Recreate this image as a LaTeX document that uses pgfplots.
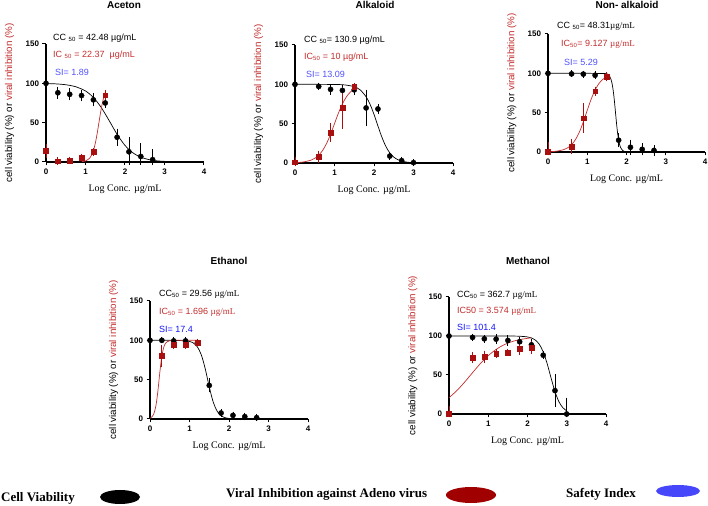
\documentclass[border=0pt]{standalone}
\usepackage{pgfplots}
\pgfplotsset{compat=1.18}
\usepackage{fontspec}
\setmainfont{Liberation Sans}
\newfontfamily\tnr{Liberation Serif}
\definecolor{dred}{RGB}{170,15,15}
\definecolor{cred}{RGB}{195,45,45}
\definecolor{lblue}{RGB}{80,80,255}
\definecolor{dblue}{RGB}{20,20,250}
\definecolor{legred}{RGB}{160,0,0}
\definecolor{legblue}{RGB}{70,70,250}
\pgfplotsset{
  panel/.style={
    scale only axis, width=158pt, height=118pt, anchor=south west,
    axis lines=left, axis line style={-, line width=1.1pt, black},
    xmin=0, xmax=4, ymin=0, ymax=150,
    xtick={0,1,2,3,4}, ytick={0,50,100,150},
    tick align=outside, major tick length=3.5pt,
    every tick/.style={black, line width=1pt},
    tick label style={font=\fontsize{8}{9}\selectfont\bfseries},
    /pgf/number format/assume math mode=true,
    clip=false,
    xlabel={{\tnr Log Conc. µg/mL}},
    xlabel style={at={(axis description cs:0.5,-0.23)}, anchor=center, font=\fontsize{10}{12}\selectfont},
    ylabel={cell viability (\%) or \textcolor{cred}{viral inhibition (\%)}},
    ylabel style={at={(axis description cs:-0.23,0.5)}, anchor=center, font=\fontsize{9.8}{11}\selectfont},
  },
  bcurve/.style={black, line width=0.7pt, no marks, smooth},
  rcurve/.style={cred, line width=0.7pt, no marks, smooth},
  cv/.style={black, only marks, mark=*, mark size=2.6pt,
    error bars/.cd, y dir=both, y explicit,
    error bar style={black, line width=0.8pt},
    error mark options={black, line width=0.8pt, mark size=3pt}},
  vi/.style={dred, only marks, mark=square*, mark size=2.4pt,
    error bars/.cd, y dir=both, y explicit,
    error bar style={dred, line width=0.8pt},
    error mark options={dred, line width=0.8pt, mark size=3pt}},
}
\begin{document}
\begin{tikzpicture}
\path[use as bounding box] (0,0) rectangle (708pt,505pt);

% ---------------- Aceton
\begin{axis}[panel, at={(46pt,343pt)}]
\addplot[bcurve] coordinates {(0,99.7)(0.25,99.3)(0.5,98.2)(0.75,95.7)(1.0,90.3)(1.2,82)(1.4,69.2)(1.6,52.5)(1.8,35.2)(2.0,21.1)(2.2,11.6)(2.4,6.1)(2.6,3.1)(2.8,1.5)(3.0,0.8)};
\addplot[rcurve] coordinates {(0.9,0.4)(1.0,1.3)(1.1,4.6)(1.15,8.3)(1.2,14.5)(1.25,24.2)(1.3,37.6)(1.35,53.2)(1.4,68.1)(1.45,80.1)(1.5,88.3)};
\addplot[cv] coordinates {(0,100) +- (0,0) (0.3,88) +- (0,4) (0.6,86) +- (0,4) (0.9,84.5) +- (0,3.5) (1.2,79) +- (0,4.5) (1.5,75) +- (0,2) (1.8,31.5) +- (0,7) (2.1,13) += (0,15) -= (0,13) (2.4,7) += (0,13) -= (0,7) (2.7,3) += (0,10) -= (0,3)};
\addplot[vi] coordinates {(0,14) +- (0,5) (0.3,1) +- (0,1) (0.6,2) +- (0,1) (0.9,5.5) +- (0,1) (1.2,12.7) +- (0,1.5) (1.5,85) +- (0,3)};
\end{axis}

% ---------------- Alkaloid
\begin{axis}[panel, at={(295pt,342pt)}]
\addplot[bcurve] coordinates {(0,100)(0.5,100)(1.0,99.8)(1.25,99.3)(1.5,97)(1.65,92.9)(1.8,84.2)(1.9,74.6)(2.0,61.8)(2.1,47.0)(2.2,32.8)(2.3,21.1)(2.4,12.8)(2.5,7.5)(2.6,4.3)(2.7,2.4)(2.85,1.0)(3.0,0.4)};
\addplot[rcurve] coordinates {(0,0.4)(0.2,1.2)(0.4,3.5)(0.5,5.9)(0.6,9.9)(0.7,16)(0.8,24.9)(0.9,36.5)(1.0,50)(1.1,63.5)(1.2,75.1)(1.3,84)(1.4,90.1)(1.5,94.1)};
\addplot[cv] coordinates {(0,100) +- (0,0) (0.6,97.3) +- (0,1) (0.9,93.6) +- (0,3) (1.2,92.3) +- (0,3) (1.5,93) +- (0,3) (1.8,70) +- (0,19) (2.1,68.7) +- (0,2) (2.4,8.8) +- (0,1) (2.7,3) +- (0,1) (3.0,0.5) +- (0,0.5)};
\addplot[vi] coordinates {(0,1) += (0,3) -= (0,1) (0.6,8) +- (0,4) (0.9,38.8) +- (0,8) (1.2,70.4) +- (0,23) (1.5,96.5) +- (0,2)};
\end{axis}

% ---------------- Non- alkaloid
\begin{axis}[panel, width=157pt, at={(548pt,353pt)}]
\addplot[bcurve] coordinates {(0,100)(1.0,100)(1.45,99.7)(1.5,99.2)(1.525,98.6)(1.55,97.6)(1.575,95.8)(1.6,93.1)(1.625,88.7)(1.65,82)(1.675,72.6)(1.7,60.6)(1.725,47.3)(1.75,34.3)(1.775,23.3)(1.8,15)(1.825,9.3)(1.85,5.7)(1.9,2.0)(1.95,0.7)(2.0,0.2)};
\addplot[rcurve] coordinates {(0,0.3)(0.2,0.9)(0.4,3.0)(0.5,5.3)(0.6,9.3)(0.7,15.8)(0.8,25.4)(0.9,38.3)(1.0,53)(1.1,67.2)(1.2,78.9)(1.3,87.2)(1.4,92.5)(1.5,95.7)};
\addplot[cv] coordinates {(0,100) +- (0,0) (0.6,99.3) +- (0,0.5) (0.9,99) +- (0,0.5) (1.2,97.6) +- (0,1) (1.5,95) +- (0,1.5) (1.8,15) +- (0,5) (2.1,6) +- (0,6) (2.4,3.4) +- (0,4) (2.7,2) +- (0,3)};
\addplot[vi] coordinates {(0,0.5) += (0,8) -= (0,0.5) (0.6,7.2) +- (0,6) (0.9,43) +- (0,15) (1.2,77.3) +- (0,2) (1.5,96) +- (0,1.5)};
\end{axis}

% ---------------- Ethanol
\begin{axis}[panel, at={(150pt,86pt)}]
\addplot[bcurve] coordinates {(0,100)(0.5,100)(0.9,99.4)(1.0,98.6)(1.1,96.5)(1.2,91.6)(1.3,81.4)(1.4,63.5)(1.5,40.9)(1.6,21.6)(1.7,9.9)(1.8,4.2)(1.9,1.7)(2.0,0.7)};
\addplot[rcurve] coordinates {(0,1.0)(0.05,2.8)(0.1,7.1)(0.15,17)(0.2,35.6)(0.25,59.8)(0.3,80)(0.35,91.5)(0.4,96.7)(0.5,99.5)(0.7,100)(1.2,100)};
\addplot[cv] coordinates {(0,100) +- (0,0) (0.3,100) +- (0,0) (0.6,99.3) +- (0,0.5) (0.9,99.3) +- (0,0.5) (1.2,97) +- (0,1) (1.5,42.7) +- (0,5) (1.8,7.6) +- (0,1) (2.1,4.6) +- (0,1) (2.4,3) +- (0,1) (2.7,1.7) +- (0,0.5)};
\addplot[vi] coordinates {(0.3,80) +- (0,10) (0.6,94.5) +- (0,2) (0.9,94.5) +- (0,2) (1.2,97) +- (0,1)};
\end{axis}

% ---------------- Methanol
\begin{axis}[panel, width=157pt, height=117pt, at={(449pt,91pt)}]
\addplot[bcurve] coordinates {(0,100)(1.0,100)(1.5,100)(1.8,99.7)(2.0,98.8)(2.1,97.5)(2.2,94.7)(2.3,89.4)(2.4,79.7)(2.5,64.7)(2.6,46.2)(2.7,28.7)(2.8,15.8)(2.9,8.1)(3.0,4.0)};
\addplot[rcurve] coordinates {(0,20.9)(0.2,30)(0.4,41)(0.6,53)(0.8,64.7)(1.0,74.8)(1.2,82.8)(1.4,88.7)(1.6,92.7)(1.8,95.4)(2.1,97.7)};
\addplot[cv] coordinates {(0,100) +- (0,0) (0.6,98.2) +- (0,1) (0.9,96.4) +- (0,1) (1.2,96) +- (0,3) (1.5,94.3) +- (0,3) (1.8,92.6) +- (0,2) (2.1,88.7) +- (0,4) (2.4,75.4) +- (0,1) (2.7,30) +- (0,17) (3.0,0) += (0,17) -= (0,0)};
\addplot[vi] coordinates {(0,0) += (0,7) -= (0,0) (0.6,72) +- (0,3) (0.9,73.3) +- (0,4) (1.2,77.1) +- (0,2) (1.5,78.9) +- (0,1) (1.8,84) +- (0,4) (2.1,85.3) +- (0,4)};
\end{axis}

% titles
\begin{scope}[every node/.style={font=\bfseries\fontsize{10}{12}\selectfont}]
\node at (124pt,500pt) {Aceton};
\node at (375pt,500pt) {Alkaloid};
\node at (627pt,500pt) {Non- alkaloid};
\node at (229pt,244pt) {Ethanol};
\node at (528pt,244pt) {Methanol};
\end{scope}

% annotations
\begin{scope}[every node/.style={anchor=west, inner sep=0pt, font=\fontsize{9}{10}\selectfont}]
\node at (53pt,467pt) {CC \textsubscript{50} = 42.48 µg/mL};
\node[text=cred] at (53pt,450pt) {IC \textsubscript{50} = 22.37 \ µg/mL};
\node[text=lblue] at (55pt,433pt) {SI= 1.89};
\node at (304pt,465pt) {CC \textsubscript{50}= 130.9 µg/mL};
\node[text=cred] at (304pt,448pt) {IC\textsubscript{50} = 10 µg/mL};
\node[text=lblue] at (306pt,431pt) {SI= 13.09};
\node at (557pt,479pt) {CC \textsubscript{50}= 48.31{\tnr µg/mL}};
\node[text=cred] at (561pt,461pt) {IC\textsubscript{50}= 9.127 {\tnr µg/mL}};
\node[text=lblue] at (564pt,443pt) {SI= 5.29};
\node at (159pt,211pt) {CC\textsubscript{50} = 29.56 {\tnr µg/mL}};
\node[text=cred] at (159pt,193pt) {IC\textsubscript{50} = 1.696 {\tnr µg/mL}};
\node[text=dblue] at (159pt,176pt) {SI= 17.4};
\node at (457pt,210pt) {CC\textsubscript{50} = 362.7 {\tnr µg/mL}};
\node[text=cred] at (457pt,194pt) {IC50 = 3.574 {\tnr µg/mL}};
\node[text=dblue] at (457pt,178pt) {SI= 101.4};
\end{scope}

% legend
\begin{scope}[every node/.style={anchor=base west, inner sep=0pt, font=\tnr\bfseries\fontsize{13}{15}\selectfont}]
\node at (1pt,4pt) {Cell Viability};
\node at (226pt,8pt) {Viral Inhibition against Adeno virus};
\node at (566pt,8pt) {Safety Index};
\end{scope}
\fill[black] (120pt,8pt) ellipse (20pt and 7pt);
\fill[legred] (471pt,10pt) ellipse (25pt and 8pt);
\fill[legblue] (678pt,14pt) ellipse (22pt and 6pt);
\end{tikzpicture}
\end{document}
